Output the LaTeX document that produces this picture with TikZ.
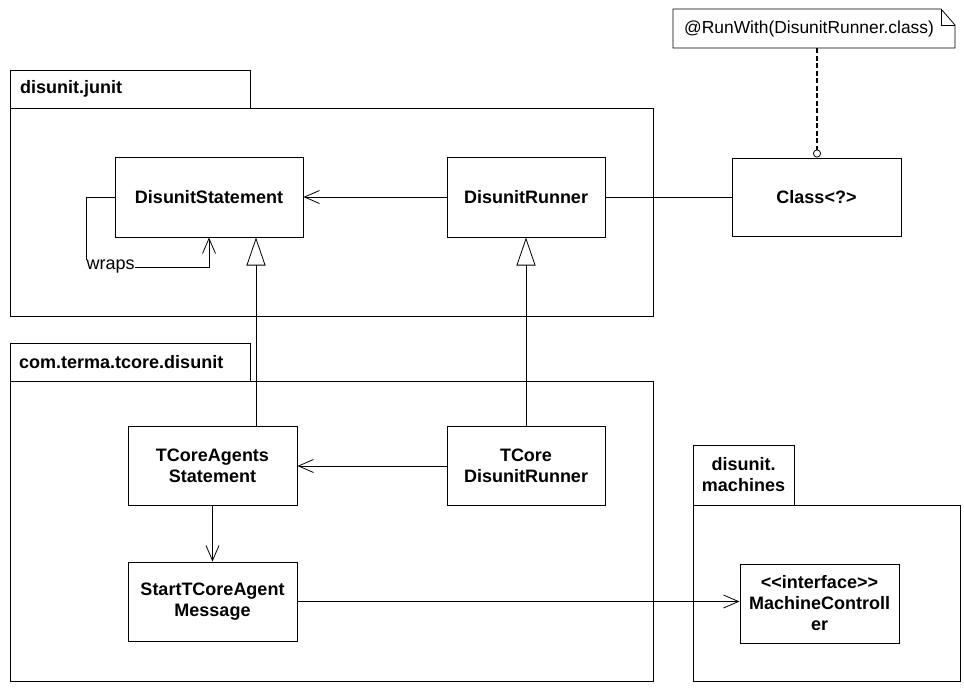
\documentclass[tikz,border=0pt]{standalone}
\usepackage{fontspec}
\setmainfont{Liberation Sans}
\usetikzlibrary{arrows.meta}
\newcommand\diagfont{\fontsize{18}{21}\selectfont}
\newcommand\notefont{\fontsize{17.4}{21}\selectfont}
\tikzset{
  cls/.style={draw, line width=1pt, fill=white, font=\diagfont\bfseries, align=center, inner sep=0pt},
  pkgtab/.style={draw, line width=1pt, inner sep=0pt},
  pkgbody/.style={draw, line width=1pt, inner sep=0pt},
  tablabel/.style={font=\diagfont\bfseries, inner sep=0pt},
  plaintext/.style={font=\diagfont, inner sep=0pt},
  assoc/.style={line width=0.8pt, -{Straight Barb[length=15pt,width=13pt]}},
  plain/.style={line width=0.8pt},
  gen/.style={line width=0.8pt, -{Triangle[open,length=28pt,width=19pt,line width=0.8pt]}},
  anchorline/.style={line width=2pt, dash pattern=on 5pt off 2.5pt,
    -{Circle[open,length=8pt,width=8pt,line width=0.8pt]}},
}
\begin{document}
\begin{tikzpicture}[x=1pt,y=-1pt]
\useasboundingbox[fill=white] (0,0) rectangle (964,688);

% package disunit.junit
\node[pkgtab, minimum width=240pt, minimum height=38pt, anchor=north west] (jtab) at (10,70) {};
\node[tablabel, anchor=west] (jlbl) at (20,89) {disunit.junit};
\node[pkgbody, minimum width=643pt, minimum height=208pt, anchor=north west] (jbody) at (10,108) {};

% package com.terma.tcore.disunit
\node[pkgtab, minimum width=240pt, minimum height=38pt, anchor=north west] (ttab) at (10,343) {};
\node[tablabel, anchor=west] (tlbl) at (19,362) {com.terma.tcore.disunit};
\node[pkgbody, minimum width=643pt, minimum height=300pt, anchor=north west] (tbody) at (10,381) {};

% package disunit.machines
\node[pkgtab, minimum width=101pt, minimum height=60pt, anchor=north west] (mtab) at (693,445) {};
\node[tablabel, align=center] (mlbl) at (743.5,475) {disunit.\\machines};
\node[pkgbody, minimum width=267pt, minimum height=176pt, anchor=north west] (mbody) at (693,505) {};

% classes
\node[cls, minimum width=188pt, minimum height=80pt] (ds) at (209,197) {DisunitStatement};
\node[cls, minimum width=158pt, minimum height=80pt] (dr) at (526,197) {DisunitRunner};
\node[cls, minimum width=169pt, minimum height=78pt] (cl) at (816.5,197) {Class<?>};
\node[cls, minimum width=169pt, minimum height=79pt] (tas) at (212.5,466) {TCoreAgents\\Statement};
\node[cls, minimum width=158pt, minimum height=79pt] (tdr) at (526,466) {TCore\\DisunitRunner};
\node[cls, minimum width=169pt, minimum height=79pt] (stm) at (212.5,601.5) {StartTCoreAgent\\Message};
\node[cls, minimum width=159pt, minimum height=79pt] (mc) at (819.5,603.5) {{<}{<}interface{>}{>}\\MachineControll\\er};

% note with folded corner
\node[plaintext, font=\notefont, anchor=west] (note) at (684,29) {@RunWith(DisunitRunner.class)};
\coordinate (nA) at (673,9);
\coordinate (nB) at (941,9);
\coordinate (nC) at (955,25);
\coordinate (nD) at (955,48);
\coordinate (nE) at (673,48);
\coordinate (nF) at (941,25);
\coordinate (nanchor) at (817,48);
\draw[line width=0.8pt] (nA) -- (nB) -- (nC) -- (nD) -- (nE) -- cycle;
\draw[line width=0.8pt] (nB) -- (nF) -- (nC);
\draw[anchorline] (nanchor) -- (cl.north -| nanchor);

% associations
\draw[assoc] (dr.west) -- (ds.east);
\draw[plain] (dr.east) -- (cl.west);
\draw[assoc] (tdr.west) -- (tas.east);
\draw[assoc] (tas.south) -- (stm.north);
\draw[assoc] (stm.east) -- (stm.east -| mc.west);

% self association "wraps"
\coordinate (wa) at (86,197);
\coordinate (wb) at (86,267);
\coordinate (wc) at (209,267);
\draw[assoc] (ds.west) -- (wa) -- (wb) -- (wc) -- (ds.south);
\node[plaintext, anchor=west, fill=white, inner sep=0.5pt] (wlbl) at (wb) {wraps};

% generalizations
\coordinate (gx) at (256,0);
\draw[gen] (tas.north -| gx) -- (ds.south -| gx);
\draw[gen] (tdr.north) -- (dr.south);
\end{tikzpicture}
\end{document}
